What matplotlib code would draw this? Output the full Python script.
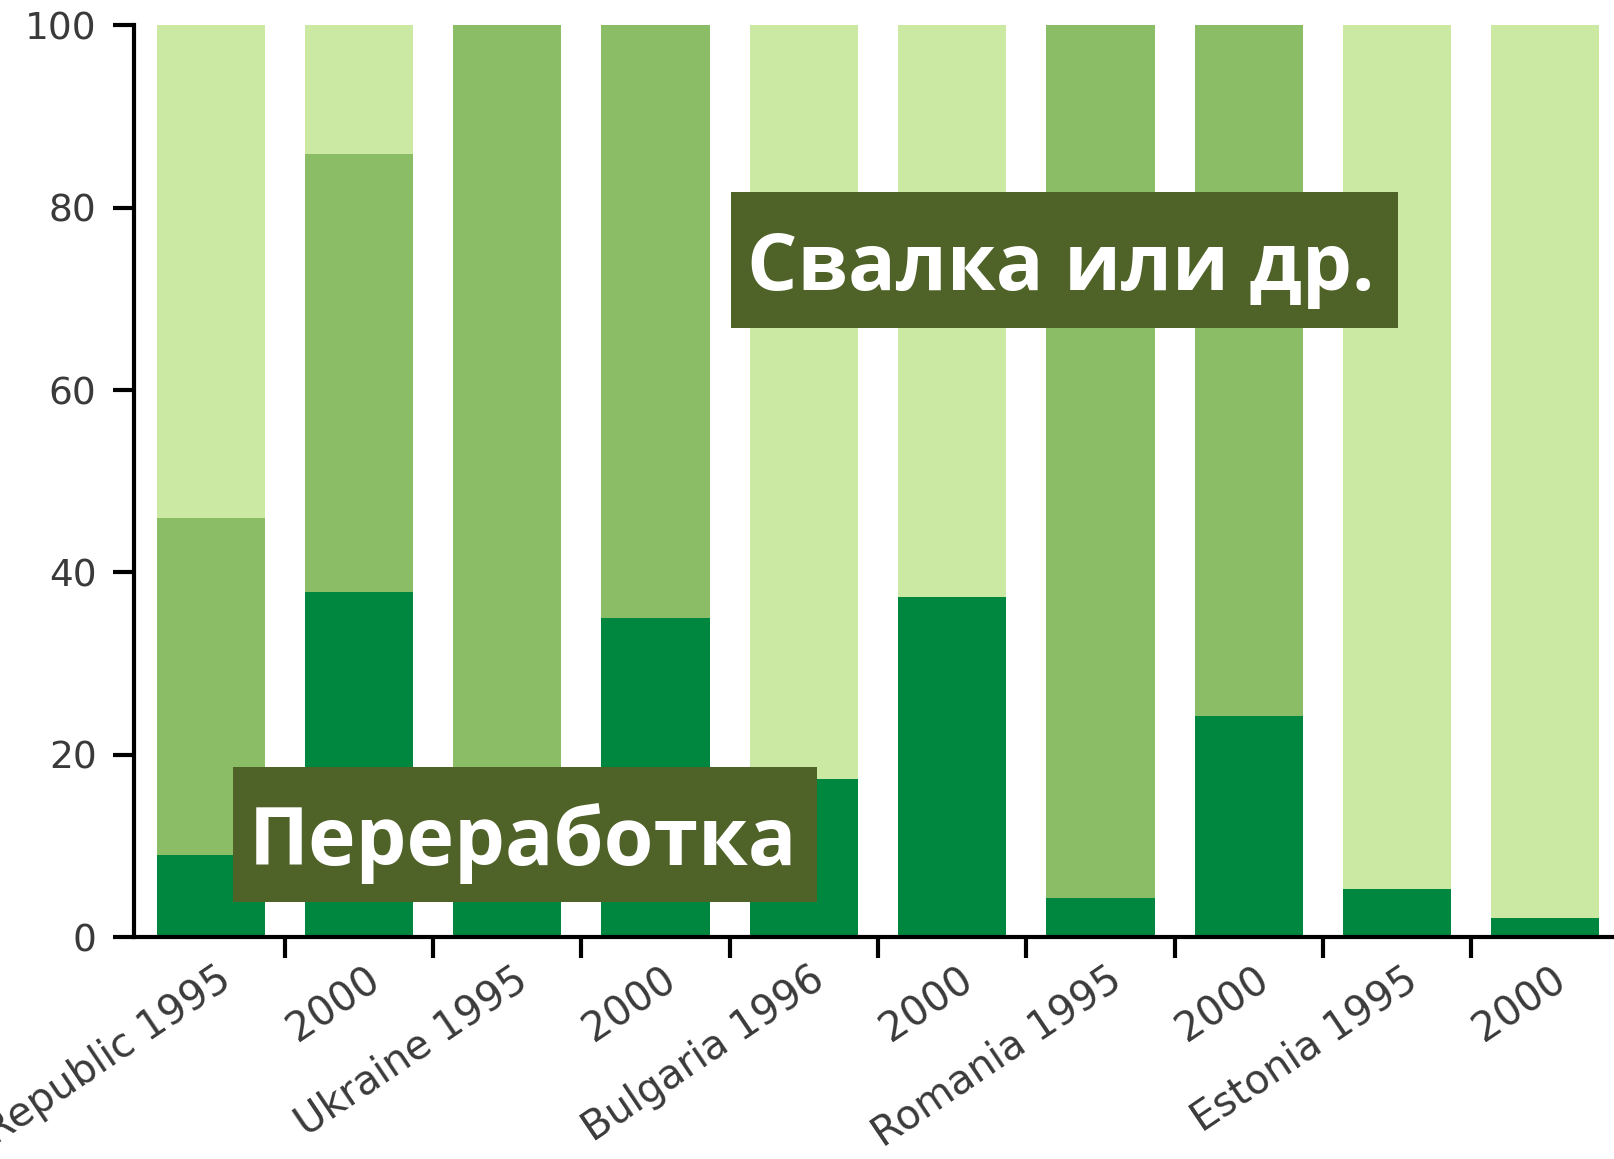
import numpy as np
import matplotlib
matplotlib.use("Agg")
import matplotlib.pyplot as plt
import matplotlib.transforms as mtransforms
from matplotlib.patches import Rectangle

# data (percent of municipal waste)
labels = ["Czech Republic 1995", "2000", "Ukraine 1995", "2000", "Bulgaria 1996",
          "2000", "Romania 1995", "2000", "Estonia 1995", "2000"]
recycling = [9.0, 37.9, 10.0, 35.0, 17.3, 37.3, 4.3, 24.3, 5.3, 2.1]
incineration = [37.0, 48.0, 90.0, 65.0, 0.0, 0.0, 95.7, 75.7, 0.0, 0.0]
landfill = [54.0, 14.1, 0.0, 0.0, 82.7, 62.7, 0.0, 0.0, 94.7, 97.9]

c_dark = "#00873f"
c_mid = "#8abd66"
c_light = "#cbe9a2"
box_col = "#4f6228"

fig = plt.figure(figsize=(16.15, 11.59), dpi=100)
ax = fig.add_axes([0.083, 0.1915, 0.917, 0.7865])

x = np.arange(len(labels))
w = 0.73
rec = np.array(recycling)
inc = np.array(incineration)
lan = np.array(landfill)
ax.bar(x, rec, w, color=c_dark, linewidth=0)
ax.bar(x, inc, w, bottom=rec, color=c_mid, linewidth=0)
ax.bar(x, lan, w, bottom=rec + inc, color=c_light, linewidth=0)

ax.set_xlim(-0.517, 9.47)
ax.set_ylim(0, 100)

for s in ["top", "right"]:
    ax.spines[s].set_visible(False)
for s in ["left", "bottom"]:
    ax.spines[s].set_linewidth(3)

# y axis
ax.set_yticks(np.arange(0, 101, 20))
ax.tick_params(axis="y", length=15, width=3, pad=12, labelsize=27, labelcolor="#3a3a3a")

# x axis: ticks between bars, labels at the bars
ax.set_xticks(x)
ax.set_xticklabels(labels)
ax.set_xticks(x[:-1] + 0.5, minor=True)
ax.tick_params(axis="x", which="major", length=0, pad=28, labelsize=29, labelcolor="#3a3a3a")
ax.tick_params(axis="x", which="minor", length=15, width=3)
off = mtransforms.ScaledTranslation(0.17, 0, fig.dpi_scale_trans)
for t in ax.get_xticklabels():
    t.set_rotation(34)
    t.set_rotation_mode("anchor")
    t.set_ha("right")
    t.set_va("center")
    t.set_transform(t.get_transform() + off)

# boxed labels
fig.add_artist(Rectangle((0.1443, 0.2217), 0.3616, 0.1165, transform=fig.transFigure,
                         fc=box_col, ec="none", zorder=5))
fig.add_artist(Rectangle((0.4526, 0.7170), 0.4130, 0.1173, transform=fig.transFigure,
                         fc=box_col, ec="none", zorder=5))
fig.text(0.3237, 0.2537, "Переработка", color="white", fontsize=58, fontweight="bold",
         family=["Open Sans", "DejaVu Sans"], ha="center", va="baseline", zorder=6)
fig.text(0.6570, 0.7500, "Свалка или др.", color="white", fontsize=57, fontweight="bold",
         family=["Open Sans", "DejaVu Sans"], ha="center", va="baseline", zorder=6)

fig.savefig("out.png", dpi=100)
